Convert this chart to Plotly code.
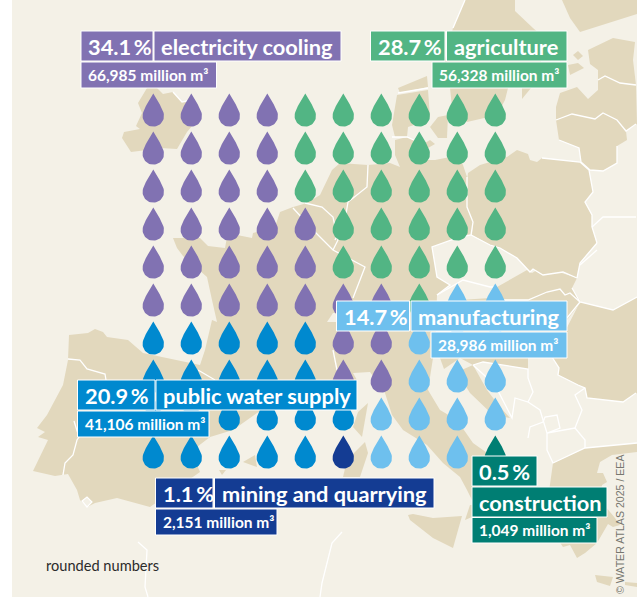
import math
import plotly.graph_objects as go

# ---------- data ----------
categories = ["electricity cooling", "agriculture", "manufacturing",
              "public water supply", "mining and quarrying", "construction"]
shares = ["34.1\u2009%", "28.7\u2009%", "14.7\u2009%", "20.9\u2009%", "1.1\u2009%", "0.5\u2009%"]
volumes = ["66,985", "56,328", "28,986", "41,106", "2,151", "1,049"]
colors = ["#8172B2", "#52B584", "#6EC0EE", "#0089CF", "#143C93", "#007E73"]

# one row of the waffle per string: E electricity, A agriculture, M manufacturing,
# P public water, Q mining and quarrying, C construction
waffle_rows = ["EEEEAAAAAA", "EEEEAAAAAA", "EEEEAAAAAA", "EEEEEAAAAA", "EEEEEAAAAA",
               "EEEEEEEAMM", "PPPPPEEMMM", "PPPPPEEMMM", "PPPPPPMMMM", "PPPPPQMMMC"]
codes = "EAMPQC"

note = "rounded numbers"
credit = "© WATER ATLAS 2025 / EEA"

# ---------- style / layout ----------
PAGE, LAND, LINE = "#F4F1E7", "#E2D8BD", "#FFFFFF"
X0, Y0, STEP = 153.3, 116.0, 38.0
R = 10.7
TIP = 22.6

land = [
 # Ireland
 [(147,88),(138,103),(142,113),(136,126),(140,129),(124,132),(122,138),(131,152),(147,150),(160,148),(177,149),(187,132),(192,126),(197,110),(192,100),(182,102),(173,92),(163,94),(157,88)],
 # Iberia, France, Benelux, Germany, Italy
 [(69,335),(88,333),(95,329),(103,332),(107,337),(128,340),(143,353),(200,365),(205,350),(212,320),(217,322),(212,300),(207,277),(183,256),(177,248),(173,238),(200,238),(208,246),(225,248),(227,237),(237,235),(252,238),(253,233),(275,227),(280,212),(293,207),(307,203),(320,195),(332,170),(340,163),(368,165),(390,163),(400,167),(395,155),(395,140),(407,137),(418,142),(420,160),(435,160),(450,157),(457,153),(463,165),(467,177),(467,207),(473,222),(471,235),(460,237),(432,247),(437,277),(450,285),(437,295),(435,358),(433,358),(428,390),(440,410),(457,420),(473,443),(490,455),(490,475),(472,500),(467,490),(460,477),(443,463),(427,445),(403,430),(392,415),(385,393),(370,372),(353,373),(357,380),(340,400),(270,405),(257,413),(233,430),(210,437),(197,447),(197,465),(200,472),(150,507),(117,498),(95,503),(87,507),(80,500),(77,490),(68,474),(55,476),(33,471),(48,440),(38,437),(45,432),(37,428),(47,415),(63,385),(68,360)],
 # Denmark
 [(397,95),(428,90),(430,117),(420,123),(408,127),(407,137),(395,137),(392,125)],
 [(398,88),(427,76),(428,87),(400,93)],
 [(430,127),(438,117),(448,115),(447,138),(438,138)],
 [(425,143),(430,140),(435,144),(428,148)],
 # Sweden, Gotland, Finland
 [(465,0),(515,0),(515,11),(533,28),(541,35),(541,88),(508,88),(505,100),(497,115),(480,119),(467,122),(452,107),(450,88),(445,60),(453,28)],
 [(522,88),(531,88),(522,99)],
 [(562,0),(637,0),(637,14),(580,32),(570,18)],
 # Estonia and islands, Latvia, Lithuania
 [(588,50),(613,38),(635,42),(633,60),(636,85),(620,83),(605,76),(598,80),(598,70),(590,64)],
 [(573,55),(578,51),(583,56),(578,60)],
 [(568,65),(578,63),(584,68),(570,75)],
 [(556,107),(560,93),(577,87),(588,99),(598,90),(598,80),(605,76),(620,83),(636,85),(637,124),(626,131),(617,120),(603,113),(595,119),(572,114),(556,120)],
 [(556,120),(572,114),(595,119),(603,113),(617,120),(626,131),(627,140),(617,146),(617,163),(603,171),(590,170),(581,162),(579,148),(559,140)],
 # Poland
 [(468,173),(480,165),(507,157),(517,150),(528,154),(530,160),(537,162),(542,158),(580,162),(589,170),(593,192),(585,202),(592,215),(592,227),(597,243),(580,263),(577,278),(563,272),(543,275),(533,269),(530,272),(517,258),(500,248),(490,245),(472,235),(473,222),(467,207),(467,182)],
 # Slovakia and Hungary
 [(490,298),(497,287),(527,270),(532,273),(537,270),(543,275),(553,270),(577,278),(572,288),(581,302),(567,320),(567,358),(528,358),(528,369),(483,362),(473,365),(460,358),(450,320),(460,300)],
 # Romania
 [(580,302),(613,310),(637,297),(637,393),(623,402),(587,398),(585,388),(578,385),(558,375),(559,368),(552,357)],
 # Slovenia, Croatia
 [(440,358),(444,369),(460,358)],
 [(473,365),(487,390),(500,407),(510,418),(493,415),(470,393),(457,372)],
 # Corsica, Sardinia, Sicily, Calabria tip
 [(368,403),(362,437),(353,427),(358,412)],
 [(365,442),(368,453),(360,477),(343,477),(347,460)],
 [(408,515),(413,514),(433,518),(462,516),(453,548),(433,538),(410,520)],
 [(465,520),(470,505),(473,505),(472,517)],
 # Balearics
 [(243,462),(255,455),(257,467)],
 [(219,470),(226,470),(222,475)],
 # Greece and Crete
 [(553,463),(585,448),(637,443),(637,452),(612,455),(600,462),(597,473),(603,473),(607,482),(602,485),(600,500),(615,518),(620,525),(613,527),(608,524),(597,543),(585,553),(577,558),(570,545),(563,547),(545,520)],
 [(595,575),(613,577),(610,586),(597,582)],
 [(625,582),(637,583),(637,587),(625,585)],
]

borders = [
 [(68,359),(80,360),(87,369),(105,374),(106,380)],
 [(74,421),(79,437),(77,440),(73,455),(65,463),(63,475)],
 [(198,370),(215,380)],
 [(173,92),(182,102),(192,100)],
 [(293,208),(315,232),(333,250),(365,267),(353,298)],
 [(305,203),(322,207),(333,217),(338,240),(333,250)],
 [(368,165),(367,187),(348,202),(345,220),(335,240)],
 [(398,93),(428,88)],
 [(392,137),(407,137),(418,142)],
 [(465,0),(453,28)],
 [(467,177),(467,207),(473,222),(471,235),(460,237),(432,247),(437,277),(450,285),(437,295)],
 [(437,295),(463,280),(490,287),(497,287)],
 [(333,350),(337,370)],
 [(471,235),(490,245),(500,248),(517,258),(530,272),(533,269),(543,275),(563,272),(577,278)],
 [(580,265),(597,250)],
 [(597,243),(580,263),(577,278)],
 [(542,158),(580,162),(589,170),(593,192),(585,202),(592,215),(592,227),(597,243)],
 [(592,227),(603,217),(636,217)],
 [(556,120),(572,114),(595,119),(603,113),(617,120),(626,131),(636,124)],
 [(598,80),(605,76),(620,83),(636,85)],
 [(617,146),(617,163),(603,171),(590,170),(581,162),(579,148),(559,140)],
 [(503,300),(528,300),(547,292),(560,289),(565,295),(570,293),(580,302),(567,318)],
 [(572,288),(580,302),(613,310),(637,297)],
 [(473,365),(483,362),(528,369),(528,378),(533,392),(528,402),(515,398),(512,418),(495,385),(473,365)],
 [(528,402),(540,410),(547,433),(547,450),(553,463),(585,448),(637,443)],
 [(528,438),(530,427),(543,422),(545,417),(557,415),(560,428),(547,433),(575,428),(585,440),(585,448)],
 [(585,388),(575,395),(582,410),(575,428)],
 [(552,357),(559,368),(558,375),(578,385),(585,388),(587,398),(623,402),(636,393)],
 [(138,542),(147,550),(145,587),(148,597)],
 [(342,532),(332,543),(322,583),(320,597)],
]

def poly_path(pts, close=True):
    return "M" + " L".join(f"{x},{y}" for x, y in pts) + (" Z" if close else "")

shapes = [dict(type="rect", x0=12, x1=637, y0=0, y1=597, fillcolor=PAGE, line_width=0, layer="below")]
for p in land:
    shapes.append(dict(type="path", path=poly_path(p), fillcolor=LAND, line_width=0, layer="below"))
for b in borders:
    shapes.append(dict(type="path", path=poly_path(b, False), line=dict(color=LINE, width=1.3), layer="below"))
# Gibraltar outline
shapes.append(dict(type="path", path=poly_path([(82,501),(87,497),(92,502),(87,507)]),
                   fillcolor=PAGE, line=dict(color=LINE, width=1.2), layer="below"))
# Switzerland visible slivers
shapes.append(dict(type="path", path=poly_path([(327,322),(333,313),(338,313),(338,322)]),
                   fillcolor=PAGE, line_width=0, layer="below"))

def drop_outline():
    pts = []
    p0, p1, p2, p3 = (0, -TIP), (2.8, -16.5), (R, -7.5), (R, 0)
    for i in range(13):
        t = i / 12
        u = 1 - t
        pts.append((u**3*p0[0]+3*u*u*t*p1[0]+3*u*t*t*p2[0]+t**3*p3[0],
                    u**3*p0[1]+3*u*u*t*p1[1]+3*u*t*t*p2[1]+t**3*p3[1]))
    for i in range(1, 25):
        a = math.pi * i / 24
        pts.append((R*math.cos(a), R*math.sin(a)))
    for i in range(1, 13):
        x, y = pts[12 - i]
        pts.append((-x, y))
    return pts

OUTLINE = drop_outline()
fig = go.Figure()
for code, name, color in zip(codes, categories, colors):
    xs, ys = [], []
    for r, row in enumerate(waffle_rows):
        for c, ch in enumerate(row):
            if ch == code:
                cx, cy = X0 + c*STEP, Y0 + r*STEP
                xs += [cx + dx for dx, dy in OUTLINE] + [None]
                ys += [cy + dy for dx, dy in OUTLINE] + [None]
    fig.add_trace(go.Scatter(x=xs, y=ys, mode="lines", fill="toself", fillcolor=color,
                             line=dict(width=0, color=color), name=name, hoverinfo="name"))

FONT = "Lato"
annotations = []
def box(x0, x1, y0, y1, color):
    shapes.append(dict(type="rect", x0=x0, x1=x1, y0=y0, y1=y1, fillcolor=color,
                       line=dict(color="#FFFFFF", width=1), layer="above"))
def label(x, y, text, size):
    annotations.append(dict(x=x, y=y, xref="x", yref="y", text=text, showarrow=False,
                            xanchor="left", yanchor="middle", align="left",
                            font=dict(family=FONT, size=size, color="#FFFFFF", weight=700)))

BIG, SMALL = 21.8, 15.5
boxes = [
 ((81,153,31,61),(154,341,31,61),(81,216.5,62,88)),
 ((370.5,445,31,61),(446.5,567,31,61),(432,567,62,88)),
 ((336.5,409.5,301,331),(411,567,301,331),(431,567,332,358)),
 ((77.5,155,380,410),(156,357,380,410),(77.5,209,411,437)),
 ((155.5,213,478,508),(214.5,434,478,508),(155.5,277,509,535)),
 ((472,537,456,486),(472,607,487,517),(472,597,517.5,543)),
]
for i, (b1, b2, b3) in enumerate(boxes):
    for b in (b1, b2, b3):
        box(*b, colors[i])
    label(b1[0]+5, (b1[2]+b1[3])/2, shares[i], BIG)
    label(b2[0]+5, (b2[2]+b2[3])/2, categories[i], BIG)
    label(b3[0]+5, (b3[2]+b3[3])/2, f"{volumes[i]} million m³", SMALL)

annotations.append(dict(x=44, y=565, xref="x", yref="y", text=note, showarrow=False,
                        xanchor="left", yanchor="middle",
                        font=dict(family=FONT, size=14.6, color="#2b2b2b")))
annotations.append(dict(x=620, y=524, xref="x", yref="y", text=credit, showarrow=False,
                        textangle=-90, xanchor="center", yanchor="middle",
                        font=dict(family="Liberation Sans", size=10.6, color="#77776f")))

fig.update_layout(
    width=637, height=597, margin=dict(l=0, r=0, t=0, b=0),
    paper_bgcolor="#FFFFFF", plot_bgcolor="#FFFFFF", showlegend=False,
    xaxis=dict(range=[0, 637], visible=False, fixedrange=True),
    yaxis=dict(range=[597, 0], visible=False, fixedrange=True),
    shapes=shapes, annotations=annotations,
)
fig.write_html("out.html", config=dict(displayModeBar=False),
               post_script="document.body.style.margin='0';document.body.style.overflow='hidden';")
